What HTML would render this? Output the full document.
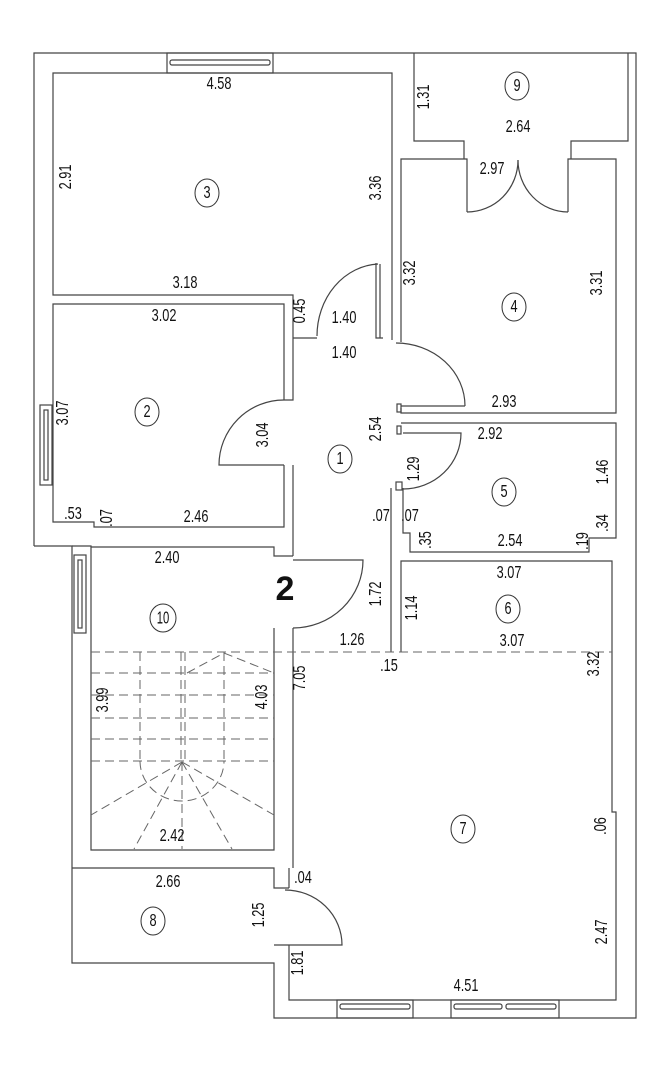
<!DOCTYPE html>
<html><head><meta charset="utf-8"><style>
html,body{margin:0;padding:0;background:#fff}
svg{display:block}
text{font-family:"Liberation Sans Narrow","Liberation Sans",sans-serif;font-size:15px;fill:#111}
</style></head><body>
<svg width="663" height="1080" viewBox="0 0 663 1080" xmlns="http://www.w3.org/2000/svg">
<g fill="none" stroke="#444" stroke-width="1.2">
<polyline points="34,546 34,53 636,53 636,1018 274,1018 274,963 72,963 72,546 34,546"/>
<rect x="167" y="53" width="106" height="20"/>
<rect x="170" y="60" width="100" height="5" rx="2"/>
<polyline points="376,263 376,338 383,338"/>
<polyline points="293,338 317,338"/>
<polyline points="392,250 392,73 53,73 53,295 293,295 293,338"/>
<line x1="392" y1="250" x2="392" y2="340"/>
<line x1="380" y1="264" x2="380" y2="338"/>
<path d="M378,264 A64,72 0 0 0 317,336"/>
<polyline points="293,338 293,400 284,400"/>
<polyline points="414,53 414,141 464,141 464,159"/>
<polyline points="628,53 628,141 571,141 571,159"/>
<polyline points="401,342 401,159 467,159 467,212"/>
<polyline points="568,212 568,159 616,159 616,413 401,413 401,408"/>
<path d="M467,212 A51,52 0 0 0 518,160"/>
<path d="M568,212 A50,52 0 0 1 518,160"/>
<path d="M396,343 A69,63 0 0 1 465,406"/>
<line x1="401" y1="406" x2="465" y2="406"/>
<polyline points="284,400 284,304 53,304 53,522 94,522 94,527 284,527 284,465"/>
<path d="M284,400 A65,65 0 0 0 219,465 L284,465"/>
<rect x="40" y="405" width="12" height="80"/>
<rect x="44" y="410" width="4" height="70"/>
<line x1="293" y1="465" x2="293" y2="556"/>
<rect x="397" y="404" width="4" height="8"/>
<rect x="397" y="426" width="4" height="8"/>
<polyline points="401,423 616,423 616,538 589,538 589,552 410,552 410,533 403,533 403,488"/>
<path d="M403,433 L461,433 A58,56 0 0 1 403,489"/>
<line x1="391" y1="488" x2="391" y2="652"/>
<rect x="396" y="482" width="6" height="8"/>
<polyline points="401,652 401,561 612,561 612,652"/>
<polyline points="72,546 91,546 91,850 274,850 274,628"/>
<polyline points="91,547 274,547 274,556 293,556"/>
<line x1="293" y1="628" x2="293" y2="868"/>
<path d="M293,560 L363,560 A70,68 0 0 1 293,628"/>
<rect x="74" y="555" width="12" height="78"/>
<rect x="78" y="560" width="4" height="68"/>
<polyline points="72,868 274,868 274,888 289,888"/>
<line x1="289" y1="868" x2="289" y2="888"/>
<path d="M285,890 A57,55 0 0 1 342,945 L285,945 L274,945"/>
<polyline points="289,945 289,1000 616,1000 616,812 612,812 612,652"/>
<rect x="337" y="1000" width="76" height="18"/>
<rect x="340" y="1004" width="70" height="5" rx="2"/>
<rect x="451" y="1000" width="108" height="18"/>
<rect x="454" y="1004" width="48" height="5" rx="2"/>
<rect x="506" y="1004" width="50" height="5" rx="2"/>
</g>
<g fill="none" stroke="#666" stroke-width="1" stroke-dasharray="9,5">
<line x1="91" y1="652" x2="612" y2="652"/>
<line x1="140" y1="652" x2="140" y2="761"/>
<line x1="181" y1="652" x2="181" y2="761"/>
<line x1="185" y1="652" x2="185" y2="761"/>
<line x1="224" y1="652" x2="224" y2="761"/>
<line x1="91" y1="673" x2="274" y2="673"/>
<line x1="91" y1="695" x2="274" y2="695"/>
<line x1="91" y1="718" x2="274" y2="718"/>
<line x1="91" y1="739" x2="274" y2="739"/>
<line x1="91" y1="761" x2="274" y2="761"/>
<polyline points="187,673 224,653 274,673"/>
<path d="M140,761 A42,40 0 0 0 224,761"/>
<line x1="182" y1="762" x2="91" y2="815"/>
<line x1="182" y1="762" x2="134" y2="849"/>
<line x1="182" y1="762" x2="182" y2="849"/>
<line x1="182" y1="762" x2="232" y2="849"/>
<line x1="182" y1="762" x2="274" y2="815"/>
</g>
<g fill="none" stroke="#333" stroke-width="1">
<ellipse cx="517" cy="86" rx="12" ry="14"/>
<ellipse cx="207" cy="193" rx="12" ry="14"/>
<ellipse cx="514" cy="307" rx="12" ry="14"/>
<ellipse cx="147" cy="412" rx="12" ry="14"/>
<ellipse cx="340" cy="459" rx="12" ry="14"/>
<ellipse cx="504" cy="492" rx="12" ry="14"/>
<ellipse cx="508" cy="609" rx="12" ry="14"/>
<ellipse cx="163" cy="618" rx="13" ry="14"/>
<ellipse cx="463" cy="829" rx="12" ry="14"/>
<ellipse cx="153" cy="921" rx="12" ry="14"/>
</g>
<g text-anchor="middle" dominant-baseline="central">
<text transform="translate(517,86) scale(0.85,1.2)">9</text>
<text transform="translate(207,193) scale(0.85,1.2)">3</text>
<text transform="translate(514,307) scale(0.85,1.2)">4</text>
<text transform="translate(147,412) scale(0.85,1.2)">2</text>
<text transform="translate(340,459) scale(0.85,1.2)">1</text>
<text transform="translate(504,492) scale(0.85,1.2)">5</text>
<text transform="translate(508,609) scale(0.85,1.2)">6</text>
<text transform="translate(163,618) scale(0.75,1.2)">10</text>
<text transform="translate(463,829) scale(0.85,1.2)">7</text>
<text transform="translate(153,921) scale(0.85,1.2)">8</text>
<text transform="translate(219,84) scale(0.85,1.2)">4.58</text>
<text transform="translate(518,127) scale(0.85,1.2)">2.64</text>
<text transform="translate(492,169) scale(0.85,1.2)">2.97</text>
<text transform="translate(185,283) scale(0.85,1.2)">3.18</text>
<text transform="translate(344,318) scale(0.85,1.2)">1.40</text>
<text transform="translate(164,316) scale(0.85,1.2)">3.02</text>
<text transform="translate(344,353) scale(0.85,1.2)">1.40</text>
<text transform="translate(504,402) scale(0.85,1.2)">2.93</text>
<text transform="translate(490,434) scale(0.85,1.2)">2.92</text>
<text transform="translate(73,514) scale(0.85,1.2)">.53</text>
<text transform="translate(196,517) scale(0.85,1.2)">2.46</text>
<text transform="translate(381,516) scale(0.85,1.2)">.07</text>
<text transform="translate(410,516) scale(0.85,1.2)">.07</text>
<text transform="translate(510,541) scale(0.85,1.2)">2.54</text>
<text transform="translate(167,558) scale(0.85,1.2)">2.40</text>
<text transform="translate(509,573) scale(0.85,1.2)">3.07</text>
<text transform="translate(352,640) scale(0.85,1.2)">1.26</text>
<text transform="translate(512,641) scale(0.85,1.2)">3.07</text>
<text transform="translate(389,666) scale(0.85,1.2)">.15</text>
<text transform="translate(172,836) scale(0.85,1.2)">2.42</text>
<text transform="translate(168,882) scale(0.85,1.2)">2.66</text>
<text transform="translate(303,878) scale(0.85,1.2)">.04</text>
<text transform="translate(466,986) scale(0.85,1.2)">4.51</text>
<text x="285" y="589" style="font-family:'Liberation Sans',sans-serif;font-size:34px;font-weight:bold">2</text>
<text transform="translate(424,97) rotate(-90) scale(0.85,1.2)">1.31</text>
<text transform="translate(66,177) rotate(-90) scale(0.85,1.2)">2.91</text>
<text transform="translate(376,188) rotate(-90) scale(0.85,1.2)">3.36</text>
<text transform="translate(410,273) rotate(-90) scale(0.85,1.2)">3.32</text>
<text transform="translate(597,283) rotate(-90) scale(0.85,1.2)">3.31</text>
<text transform="translate(300,311) rotate(-90) scale(0.85,1.2)">0.45</text>
<text transform="translate(63,413) rotate(-90) scale(0.85,1.2)">3.07</text>
<text transform="translate(263,435) rotate(-90) scale(0.85,1.2)">3.04</text>
<text transform="translate(376,429) rotate(-90) scale(0.85,1.2)">2.54</text>
<text transform="translate(414,469) rotate(-90) scale(0.85,1.2)">1.29</text>
<text transform="translate(603,472) rotate(-90) scale(0.85,1.2)">1.46</text>
<text transform="translate(107,518) rotate(-90) scale(0.85,1.2)">.07</text>
<text transform="translate(426,540) rotate(-90) scale(0.85,1.2)">.35</text>
<text transform="translate(583,541) rotate(-90) scale(0.85,1.2)">.19</text>
<text transform="translate(603,523) rotate(-90) scale(0.85,1.2)">.34</text>
<text transform="translate(376,594) rotate(-90) scale(0.85,1.2)">1.72</text>
<text transform="translate(412,608) rotate(-90) scale(0.85,1.2)">1.14</text>
<text transform="translate(300,678) rotate(-90) scale(0.85,1.2)">7.05</text>
<text transform="translate(594,664) rotate(-90) scale(0.85,1.2)">3.32</text>
<text transform="translate(103,700) rotate(-90) scale(0.85,1.2)">3.99</text>
<text transform="translate(262,697) rotate(-90) scale(0.85,1.2)">4.03</text>
<text transform="translate(601,826) rotate(-90) scale(0.85,1.2)">.06</text>
<text transform="translate(259,915) rotate(-90) scale(0.85,1.2)">1.25</text>
<text transform="translate(602,932) rotate(-90) scale(0.85,1.2)">2.47</text>
<text transform="translate(298,963) rotate(-90) scale(0.85,1.2)">1.81</text>
</g>
</svg>
</body></html>
